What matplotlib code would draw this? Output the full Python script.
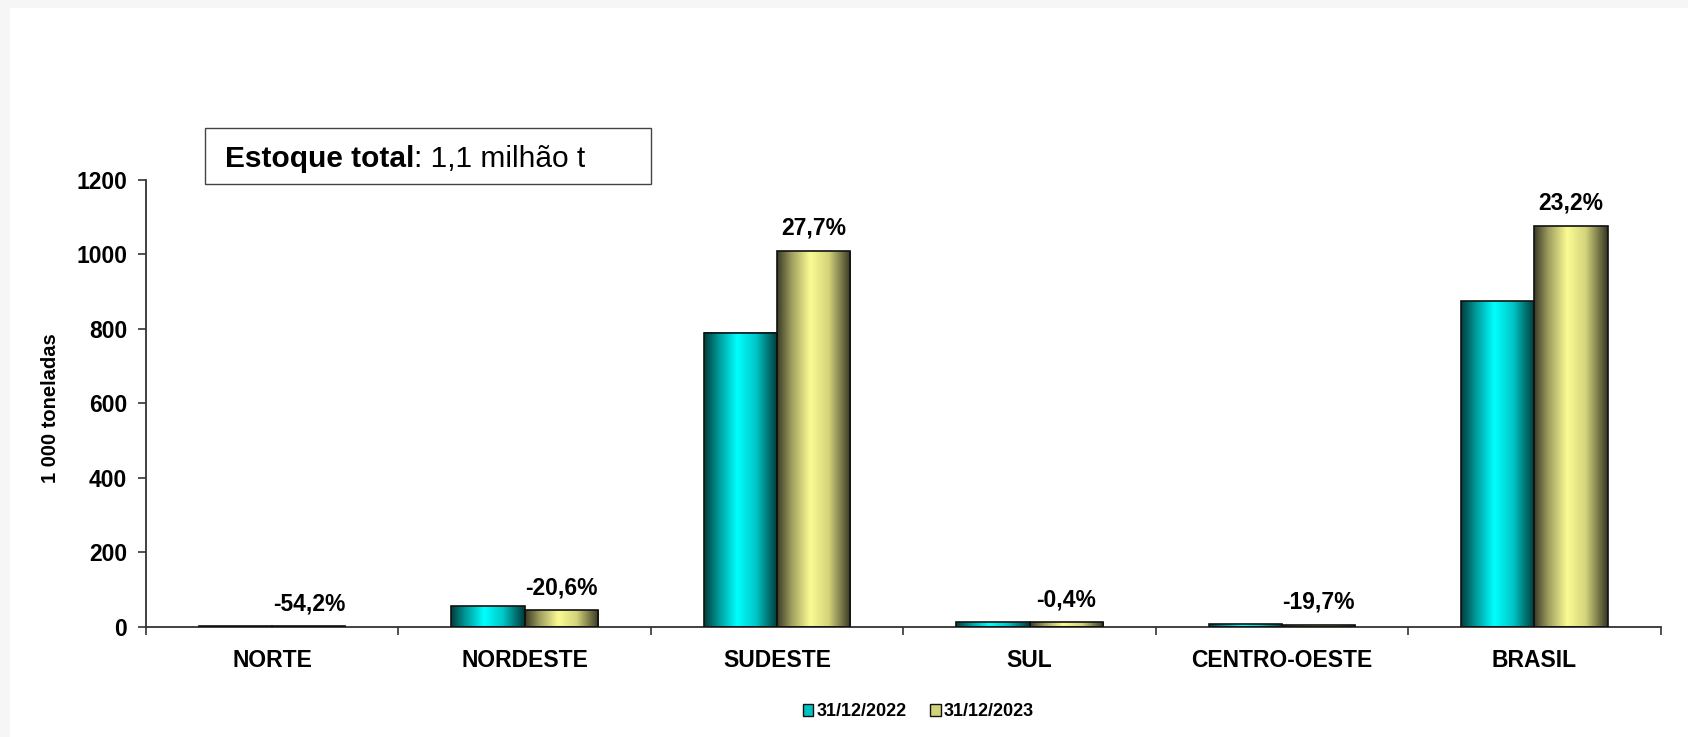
import numpy as np
import matplotlib
matplotlib.use("Agg")
import matplotlib.pyplot as plt
from matplotlib.colors import LinearSegmentedColormap
from matplotlib.patches import Patch, Rectangle
from matplotlib.text import Annotation

# ---- data ----
categories = ["NORTE", "NORDESTE", "SUDESTE", "SUL", "CENTRO-OESTE", "BRASIL"]
stock_2022 = [1.3, 55.5, 790, 12.0, 6.5, 874]
stock_2023 = [0.6, 44.0, 1009, 12.0, 5.2, 1077]
pct_labels = ["-54,2%", "-20,6%", "27,7%", "-0,4%", "-19,7%", "23,2%"]
series_labels = ["31/12/2022", "31/12/2023"]
yticks = [0, 200, 400, 600, 800, 1000, 1200]

plt.rcParams['font.family'] = ['Liberation Sans', 'DejaVu Sans']

W, H = 1688, 737
fig = plt.figure(figsize=(W / 100, H / 100), dpi=100)
fig.patch.set_facecolor('#f6f6f6')
fig.patches.append(Rectangle((10 / W, 0), 1 - 10 / W, 1 - 8 / H,
                             transform=fig.transFigure, facecolor='white',
                             edgecolor='none', zorder=-5))

ax = fig.add_axes([146 / W, 1 - 626.7 / H, (1660.7 - 146) / W, (626.7 - 180) / H])
ax.set_facecolor('none')

cyan_cmap = LinearSegmentedColormap.from_list(
    'cy', [(0, '#003c3c'), (0.2, '#009a9a'), (0.45, '#00ffff'), (0.7, '#00c8c8'), (1, '#003838')])
yel_cmap = LinearSegmentedColormap.from_list(
    'ye', [(0, '#3a3a26'), (0.2, '#a0a060'), (0.45, '#fbfb94'), (0.7, '#d4d47c'), (1, '#363624')])
grad = np.linspace(0, 1, 256).reshape(1, -1)

x = np.arange(len(categories)) + 0.5
w = 0.29
bars1 = ax.bar(x - w / 2, stock_2022, w, facecolor='none', edgecolor='#111111', linewidth=1.2, zorder=3)
bars2 = ax.bar(x + w / 2, stock_2023, w, facecolor='none', edgecolor='#111111', linewidth=1.2, zorder=3)
for bars, cmap in ((bars1, cyan_cmap), (bars2, yel_cmap)):
    for b in bars:
        x0, y0, bw, bh = b.get_x(), b.get_y(), b.get_width(), b.get_height()
        ax.imshow(grad, extent=[x0, x0 + bw, y0, y0 + bh], aspect='auto',
                  cmap=cmap, zorder=2, interpolation='bilinear')

for b, lab in zip(bars2, pct_labels):
    ax.annotate(lab, xy=(b.get_x() + b.get_width() / 2, b.get_height()),
                xytext=(0, 8), textcoords='offset points', ha='center', va='bottom',
                fontsize=16.5, fontweight='bold', color='black')

ax.set_xlim(0, len(categories))
ax.set_ylim(0, 1200)
ax.set_yticks(yticks)
ax.set_yticklabels([str(v) for v in yticks], fontsize=16.5, fontweight='bold')
ax.set_xticks(np.arange(len(categories) + 1))
ax.set_xticklabels([])
ax.set_xticks(x, minor=True)
ax.set_xticklabels(categories, minor=True, fontsize=16.5, fontweight='bold')
ax.tick_params(axis='x', which='major', direction='out', length=5.5, width=1.2, color='#333333')
ax.tick_params(axis='x', which='minor', length=0, pad=16)
ax.tick_params(axis='y', direction='out', length=5.5, width=1.2, color='#333333', pad=8)

for s in ('top', 'right'):
    ax.spines[s].set_visible(False)
for s in ('left', 'bottom'):
    ax.spines[s].set_linewidth(1.3)
    ax.spines[s].set_color('#333333')

ax.set_ylabel("1 000 toneladas", fontsize=14.5, fontweight='bold')
ax.yaxis.set_label_coords(-0.0568, 0.49)

# annotation box
fig.patches.append(Rectangle((204.5 / W, 1 - 184 / H), (651 - 204.5) / W, (184 - 128) / H,
                             transform=fig.transFigure, facecolor='white',
                             edgecolor='#444444', linewidth=1.0, zorder=5))
t1 = fig.text(225 / W, 1 - 167 / H, "Estoque total", fontsize=21.5, fontweight='bold',
              va='baseline', ha='left', zorder=6)
t2 = Annotation(": 1,1 milhão t", xy=(1, 0), xycoords=t1, va='bottom', ha='left',
                fontsize=21.5, annotation_clip=False, zorder=6)
fig.add_artist(t2)

handles = [Patch(facecolor='#00c4c4', edgecolor='#111111', linewidth=1.0),
           Patch(facecolor='#d2d27a', edgecolor='#111111', linewidth=1.0)]
fig.legend(handles, series_labels, loc='center', bbox_to_anchor=(918 / W, 1 - 712 / H),
           ncol=2, frameon=False, prop={'size': 13, 'weight': 'bold'},
           handlelength=0.6, handleheight=0.6, handletextpad=0.15, columnspacing=1.3)

fig.savefig("out.png", dpi=100)
